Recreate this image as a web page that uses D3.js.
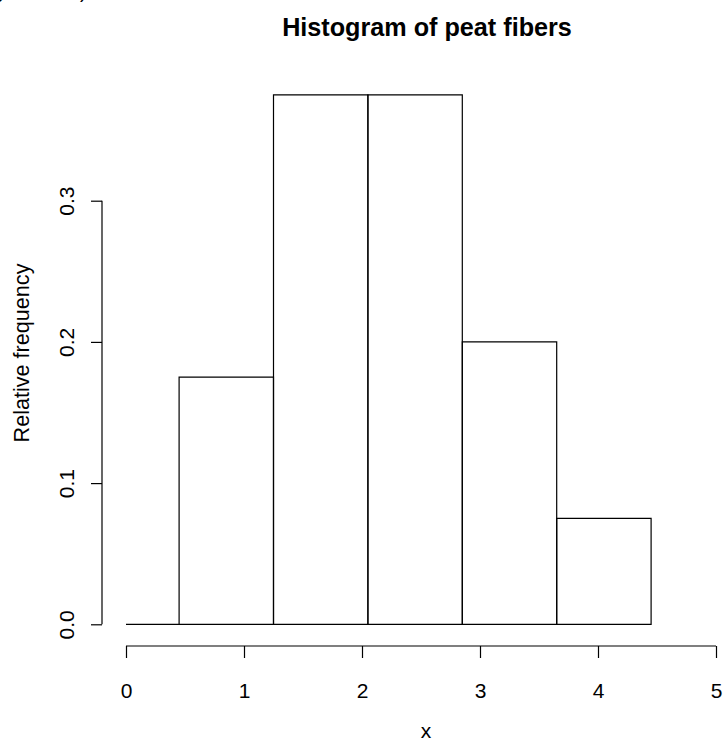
<!DOCTYPE html>
<html>
<head>
<meta charset="utf-8">
<script src="https://cdn.jsdelivr.net/npm/d3@7"></script>
<style>
  html, body { margin: 0; padding: 0; background: #fff; }
  svg { display: block; font-family: "Liberation Sans", Arial, Helvetica, sans-serif; }
</style>
</head>
<body>
<svg id="chart" width="725" height="740"></svg>
<script>
// bin edges and relative frequencies
const breaks = [0, 0.45, 1.25, 2.05, 2.85, 3.65, 4.45];
const freqs = [0, 0.175, 0.375, 0.375, 0.2, 0.075];
const xTicks = [0, 1, 2, 3, 4, 5];
const yTicks = [0, 0.1, 0.2, 0.3];

const svg = d3.select("#chart");

const x = d3.scaleLinear().domain([0, 5]).range([126, 716]);
const y = d3.scaleLinear().domain([0, 0.3]).range([624.3, 200.7]);

const bins = freqs.map((f, i) => ({ x0: breaks[i], x1: breaks[i + 1], f: f }));

// bars drawn as closed paths so an empty bin still shows its base line
svg.append("g")
    .selectAll("path")
    .data(bins)
    .join("path")
    .attr("d", d => `M${x(d.x0)},${y(0)}V${y(d.f)}H${x(d.x1)}V${y(0)}Z`)
    .attr("fill", "none")
    .attr("stroke", "#000")
    .attr("stroke-width", 1.2);

// x axis (R style: line from first to last tick, ticks outward)
const xAxis = d3.axisBottom(x)
    .tickValues(xTicks)
    .tickFormat(d3.format("d"))
    .tickSize(12)
    .tickSizeOuter(0)
    .tickPadding(25);

const gx = svg.append("g")
    .attr("transform", "translate(0,646)")
    .call(xAxis);
gx.select(".domain").attr("d", `M${x(0)},0H${x(5)}`).attr("stroke-width", 1.2);
gx.selectAll(".tick line").attr("stroke-width", 1.2);
gx.selectAll(".tick text")
    .attr("font-size", 21)
    .attr("font-family", "Liberation Sans, Arial, sans-serif")
    .attr("fill", "#000");

// y axis with rotated labels
const yAxis = d3.axisLeft(y)
    .tickValues(yTicks)
    .tickFormat(d3.format(".1f"))
    .tickSize(11)
    .tickSizeOuter(0);

const gy = svg.append("g")
    .attr("transform", "translate(102,0)")
    .call(yAxis);
gy.select(".domain").attr("d", `M0,${y(0)}V${y(0.3)}`).attr("stroke-width", 1.2);
gy.selectAll(".tick line").attr("stroke-width", 1.2);
gy.selectAll(".tick text")
    .attr("font-size", 21)
    .attr("font-family", "Liberation Sans, Arial, sans-serif")
    .attr("fill", "#000")
    .attr("text-anchor", "middle")
    .attr("dy", 0)
    .attr("x", 0)
    .attr("transform", "translate(-28,0) rotate(-90)");

// titles
svg.append("text")
    .attr("x", 427)
    .attr("y", 36)
    .attr("text-anchor", "middle")
    .attr("font-size", 25.2)
    .attr("font-weight", "bold")
    .text("Histogram of peat fibers");

svg.append("text")
    .attr("x", 426)
    .attr("y", 738)
    .attr("text-anchor", "middle")
    .attr("font-size", 21)
    .text("x");

svg.append("text")
    .attr("transform", "translate(29,353) rotate(-90)")
    .attr("text-anchor", "middle")
    .attr("font-size", 21.6)
    .text("Relative frequency");

// bits of a cut-off line above the frame
svg.append("text").attr("x", -3).attr("y", -2).attr("font-size", 20).text("y");
svg.append("text").attr("x", 80).attr("y", -2).attr("font-size", 20).text(")");
</script>
</body>
</html>
